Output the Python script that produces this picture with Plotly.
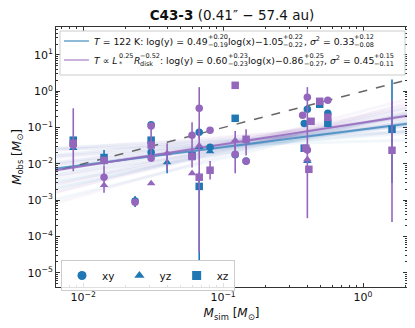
import plotly.graph_objects as go

# ---- data ----
# model 1: T = 122 K (blue), model 2: T ~ L^0.25 R^-0.52 (purple)
blue_xy_x = [0.0085, 0.0235, 0.0306, 0.0306, 0.0675, 0.0807, 0.122, 0.146, 0.38, 0.40, 0.56]
blue_xy_y = [0.035, 0.00095, 0.12, 0.021, 0.074, 0.0286, 0.018, 0.012, 0.13, 0.32, 0.248]
blue_xy_hi = [0, 0.0013, 0, 0, 0, 0, 0, 0, 0, 0, 0]
blue_xy_lo = [0, 0.00065, 0, 0, 0, 0, 0, 0, 0, 0, 0]

blue_yz_x = [0.0085, 0.0398, 0.0675, 0.0807, 0.40]
blue_yz_y = [0.027, 0.0111, 0.029, 0.022, 0.012]
blue_yz_hi = [0, 0.02, 0, 0, 0]
blue_yz_lo = [0, 0.0055, 0, 0, 0]

blue_xz_x = [0.0085, 0.0141, 0.0306, 0.060, 0.0675, 0.122, 0.38, 0.49, 0.56, 1.61]
blue_xz_y = [0.045, 0.015, 0.045, 0.017, 0.0024, 0.18, 0.027, 0.44, 0.131, 0.09]
blue_xz_hi = [0, 0.024, 0, 0, 0.006, 0, 0, 0, 0, 2.1]
blue_xz_lo = [0, 0.0095, 0, 0, 2.2e-5, 0, 0, 0, 0, 0.003]

purple_xy_x = [0.0085, 0.0141, 0.0235, 0.0306, 0.0306, 0.060, 0.0675, 0.0807, 0.122, 0.146, 0.37, 0.40, 0.40, 0.56]
purple_xy_y = [0.033, 0.0043, 0.00088, 0.11, 0.0143, 0.062, 0.34, 0.084, 0.0184, 0.0118, 0.22, 0.68, 0.024, 0.565]
purple_xy_hi = [0.34, 0, 0, 0, 0, 0.14, 1.3, 0, 0.037, 0, 0, 0, 0, 0]
purple_xy_lo = [0.0063, 0, 0, 0, 0, 0.008, 0.05, 0, 0.0055, 0, 0, 0, 0, 0]

purple_yz_x = [0.0141, 0.0306, 0.0398, 0.060, 0.0675, 0.122, 0.40]
purple_yz_y = [0.0026, 0.0029, 0.0196, 0.0055, 0.032, 0.045, 0.0134]
purple_yz_hi = [0.009, 0, 0.037, 0, 0, 0.08, 1.3]
purple_yz_lo = [0.0016, 0, 0.0067, 0, 0, 0.02, 0.00032]

purple_xz_x = [0.0085, 0.0141, 0.0306, 0.060, 0.0675, 0.0807, 0.122, 0.146, 0.39, 0.425, 0.41, 0.49, 0.56, 1.61]
purple_xz_y = [0.037, 0.0125, 0.033, 0.016, 0.0043, 0.0067, 1.46, 0.0476, 0.027, 0.149, 0.0071, 0.53, 0.192, 0.0237]
purple_xz_hi = [0, 0, 0.14, 0, 0.1, 0.012, 0, 0.09, 0, 0, 0, 0, 0, 0.565]
purple_xz_lo = [0, 0, 0.012, 0, 3.7e-5, 0.0037, 0, 0.017, 0, 0, 0, 0, 0, 0.00025]

# best fits and posterior samples (slope, intercept in log-log)
blue_fit = (0.49, -1.05)
purple_fit = (0.60, -0.86)
blue_fan_slope = [0.10, 0.18, 0.25, 0.31, 0.36, 0.41, 0.45, 0.49, 0.53, 0.57, 0.62, 0.67, 0.73, 0.80, 0.88, 0.95]
blue_fan_icpt = [-1.38, -1.16, -1.24, -1.06, -1.21, -1.05, -1.10, -1.05, -0.97, -1.06, -0.88, -1.04, -0.87, -0.91, -0.76, -0.89]
purple_fan_slope = [0.20, 0.28, 0.35, 0.41, 0.46, 0.51, 0.56, 0.60, 0.64, 0.69, 0.74, 0.80, 0.87, 0.94, 1.02, 1.10]
purple_fan_icpt = [-1.18, -0.98, -1.07, -0.88, -1.01, -0.86, -0.92, -0.86, -0.78, -0.87, -0.70, -0.83, -0.65, -0.72, -0.54, -0.66]
fit_x = [0.004, 3.0]

BLUE = "#1f77b4"
PURPLE = "#9467bd"
FONT = "DejaVu Sans"

fig = go.Figure()


def line_y(p):
    a, b = p
    return [10 ** (a * _lx + b) for _lx in [-2.39794, 0.47712]]


for a, b in zip(blue_fan_slope, blue_fan_icpt):
    fig.add_trace(go.Scatter(x=fit_x, y=line_y((a, b)), mode="lines", showlegend=False,
                             line=dict(color="rgba(31,119,180,0.06)", width=3), hoverinfo="skip"))
for a, b in zip(purple_fan_slope, purple_fan_icpt):
    fig.add_trace(go.Scatter(x=fit_x, y=line_y((a, b)), mode="lines", showlegend=False,
                             line=dict(color="rgba(148,103,189,0.06)", width=3), hoverinfo="skip"))

# 1:1 line
fig.add_trace(go.Scatter(x=fit_x, y=fit_x, mode="lines", showlegend=False,
                         line=dict(color="#666666", width=1.5, dash="dash")))
fig.add_trace(go.Scatter(x=fit_x, y=line_y(blue_fit), mode="lines", showlegend=False,
                         line=dict(color="rgba(31,119,180,0.65)", width=2)))
fig.add_trace(go.Scatter(x=fit_x, y=line_y(purple_fit), mode="lines", showlegend=False,
                         line=dict(color="rgba(148,103,189,0.85)", width=2)))


def pts(x, y, hi, lo, color, symbol):
    up = [h - v if h else 0 for h, v in zip(hi, y)]
    dn = [v - l if l else 0 for l, v in zip(lo, y)]
    fig.add_trace(go.Scatter(
        x=x, y=y, mode="markers", showlegend=False,
        marker=dict(color=color, symbol=symbol, size=7.5, line=dict(width=0)),
        error_y=dict(type="data", array=up, arrayminus=dn, symmetric=False,
                     color=color, thickness=1.6, width=0)))


pts(blue_xy_x, blue_xy_y, blue_xy_hi, blue_xy_lo, BLUE, "circle")
pts(blue_yz_x, blue_yz_y, blue_yz_hi, blue_yz_lo, BLUE, "triangle-up")
pts(blue_xz_x, blue_xz_y, blue_xz_hi, blue_xz_lo, BLUE, "square")
pts(purple_xy_x, purple_xy_y, purple_xy_hi, purple_xy_lo, PURPLE, "circle")
pts(purple_yz_x, purple_yz_y, purple_yz_hi, purple_yz_lo, PURPLE, "triangle-up")
pts(purple_xz_x, purple_xz_y, purple_xz_hi, purple_xz_lo, PURPLE, "square")

# projection legend entries
for name, sym in [("xy", "circle"), ("yz", "triangle-up"), ("xz", "square")]:
    fig.add_trace(go.Scatter(x=[None], y=[None], mode="markers", name=name,
                             marker=dict(color=BLUE, symbol=sym, size=9)))

# ---- layout in page pixels (the page body has an 8px margin) ----
OFF = 8
W, H = 415 - OFF, 328 - OFF
L, R, T, B = 56, 407, 27, 287


def px(x):
    return (x - L) / (R - L)


def py(y):
    return (B - y) / (B - T)


# fit legend box
shapes = [dict(type="rect", xref="paper", yref="paper", x0=px(60), x1=px(405), y0=py(31), y1=py(75),
               line=dict(color="#cccccc", width=1), fillcolor="rgba(255,255,255,0.85)", layer="above")]
shapes.append(dict(type="line", xref="paper", yref="paper", x0=px(64), x1=px(89), y0=py(41), y1=py(41),
                   line=dict(color="rgba(31,119,180,0.5)", width=2), layer="above"))
shapes.append(dict(type="line", xref="paper", yref="paper", x0=px(64), x1=px(89), y0=py(60), y1=py(60),
                   line=dict(color="rgba(148,103,189,0.5)", width=2), layer="above"))

CW = {"0": .636, "1": .636, "2": .636, "3": .636, "4": .636, "5": .636, "6": .636, "7": .636,
      "8": .636, "9": .636, ".": .318, " ": .318, "=": .838, "+": .838, "−": .838, "(": .39,
      ")": .39, ":": .337, ",": .318, "l": .278, "o": .612, "g": .635, "x": .592, "y": .592,
      "K": .656, "T": .611, "L": .557, "R": .695, "σ": .634, "d": .635, "i": .278, "s": .521,
      "k": .579, "∝": .838, "*": .5, "^": .445}


def tw(s, size):
    return sum(CW.get(c, .6) for c in s) * size


FS = 9.3
SS = 6.5
annos = []


def legend_line(pieces, x0, yc):
    x = x0
    for p in pieces:
        if len(p) == 3:
            txt, plain = p[0], p[1]
            annos.append(dict(text=txt, x=px(x), y=py(yc), xref="paper", yref="paper",
                              xanchor="left", yanchor="middle", showarrow=False,
                              font=dict(size=FS, family=FONT, color="#111"), borderpad=0))
            x += tw(plain, FS)
        else:
            up, dn = p
            for t, dy in [(up, -3.6), (dn, 3.6)]:
                annos.append(dict(text=t, x=px(x), y=py(yc + dy), xref="paper", yref="paper",
                                  xanchor="left", yanchor="middle", showarrow=False,
                                  font=dict(size=SS, family=FONT, color="#111"), borderpad=0))
            x += max(tw(up, SS), tw(dn, SS)) + 0.5


legend_line([("<i>T</i> = 122 K: log(y) = 0.49", "T = 122 K: log(y) = 0.49", 0), ("+0.20", "−0.19"),
             ("log(x)−1.05", "log(x)−1.05", 0), ("+0.22", "−0.22"),
             (", <i>σ</i><sup>2</sup> = 0.33", ", σ^ = 0.33", 0), ("+0.12", "−0.08")], 93, 41)
legend_line([("<i>T</i> ∝ <i>L</i>", "T ∝ L", 0), ("0.25", "*"), ("<i>R</i>", "R", 0), ("−0.52", "disk"),
             (": log(y) = 0.60", ": log(y) = 0.60", 0), ("+0.23", "−0.23"),
             ("log(x)−0.86", "log(x)−0.86", 0), ("+0.25", "−0.27"),
             (", <i>σ</i><sup>2</sup> = 0.45", ", σ^ = 0.45", 0), ("+0.15", "−0.11")], 93, 60)

xt = [0.01, 0.1, 1.0]
xt_text = ["10<sup>−2</sup>", "10<sup>−1</sup>", "10<sup>0</sup>"]
yt = [1e-5, 1e-4, 1e-3, 1e-2, 1e-1, 1.0, 10.0]
yt_text = ["10<sup>−5</sup>", "10<sup>−4</sup>", "10<sup>−3</sup>", "10<sup>−2</sup>",
           "10<sup>−1</sup>", "10<sup>0</sup>", "10<sup>1</sup>"]
x_minor = [m * 10 ** e for e in range(-3, 1) for m in range(2, 10)]
y_minor = [m * 10 ** e for e in range(-6, 2) for m in range(2, 10)]

axis_common = dict(type="log", showgrid=False, zeroline=False, showline=True, linecolor="#333",
                   linewidth=1, mirror="allticks", ticks="inside", ticklen=4, tickwidth=1,
                   tickcolor="#333", tickmode="array",
                   tickfont=dict(size=11, family=FONT, color="#111"))

fig.update_layout(
    width=W, height=H, margin=dict(l=L - OFF, r=415 - R, t=T - OFF, b=328 - B),
    plot_bgcolor="white", paper_bgcolor="white",
    font=dict(family=FONT, color="#111"),
    title=dict(text="<b>C43-3</b> (0.41″ − 57.4 au)", x=px(232), xref="paper", xanchor="center",
               y=1 - (15.5 - OFF) / H, yref="container", yanchor="middle",
               font=dict(size=13.5, family=FONT, color="#111")),
    xaxis=dict(axis_common, range=[-2.194, 0.314], tickvals=xt, ticktext=xt_text,
               minor=dict(tickmode="array", tickvals=x_minor, ticks="inside", ticklen=2,
                          tickcolor="#333", showgrid=False),
               title=dict(text="<i>M</i><sub>sim</sub> [<i>M</i><sub>⊙</sub>]", standoff=5,
                          font=dict(size=12, family=FONT))),
    yaxis=dict(axis_common, range=[-5.39, 1.77], tickvals=yt, ticktext=yt_text,
               minor=dict(tickmode="array", tickvals=y_minor, ticks="inside", ticklen=2,
                          tickcolor="#333", showgrid=False),
               title=dict(text="<i>M</i><sub>obs</sub> [<i>M</i><sub>⊙</sub>]", standoff=3,
                          font=dict(size=12, family=FONT))),
    legend=dict(orientation="h", x=px(61), y=py(260), xanchor="left", yanchor="top",
                bgcolor="rgba(255,255,255,0.85)", bordercolor="#cccccc", borderwidth=1,
                font=dict(size=10.5, family=FONT, color="#111"), itemwidth=30),
    shapes=shapes, annotations=annos,
)

fig.write_html("out.html")
